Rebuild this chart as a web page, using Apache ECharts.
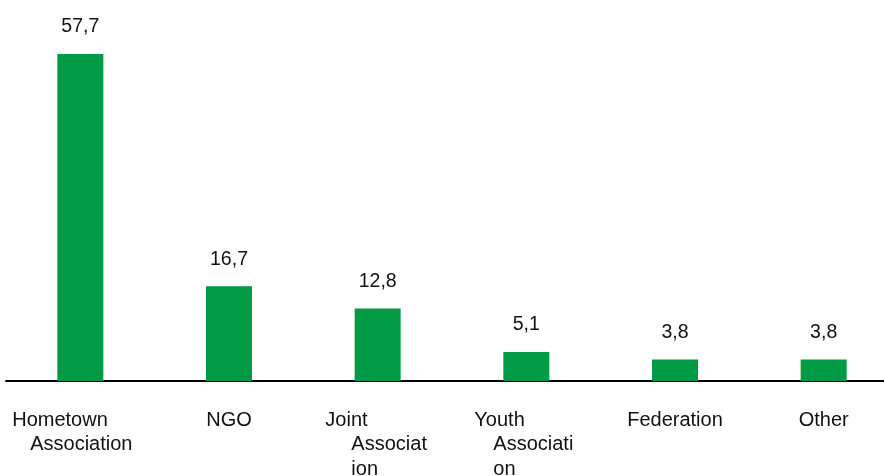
<!DOCTYPE html>
<html>
<head>
<meta charset="utf-8">
<script src="https://cdn.jsdelivr.net/npm/echarts@6/dist/echarts.min.js"></script>
<style>
  html, body { margin: 0; padding: 0; background: #fff; }
  #main { width: 884px; height: 476px; }
</style>
</head>
<body>
<div id="main"></div>
<script>
// data
const categories = ['Hometown Association', 'NGO', 'Joint Association', 'Youth Association', 'Federation', 'Other'];
const tickLabels = [
  ['Hometown', 'Association'],
  ['NGO'],
  ['Joint', 'Associat', 'ion'],
  ['Youth', 'Associati', 'on'],
  ['Federation'],
  ['Other']
];
const values = [57.7, 16.7, 12.8, 5.1, 3.8, 3.8];

// indent style for wrapped lines (per category)
const indentStyle = ['h', null, 'j', 'y', null, null];

const font = 'Liberation Sans, Arial, sans-serif';
const base = { fontFamily: font, fontSize: 20, lineHeight: 24.5, color: '#111', align: 'left' };

const chart = echarts.init(document.getElementById('main'));
chart.setOption({
  animation: false,
  grid: { left: 6, top: 41, width: 892, height: 340, outerBoundsMode: 'none', containLabel: false },
  xAxis: {
    type: 'category',
    data: categories,
    axisTick: { show: false },
    axisLine: { lineStyle: { color: '#000', width: 2 } },
    axisLabel: {
      interval: 0,
      margin: 27,
      align: 'center',
      formatter: function (v, i) {
        const lines = tickLabels[i];
        const st = indentStyle[i] || 'a';
        return lines.map((l, k) => '{' + (k === 0 ? 'a' : st) + '|' + l + '}').join('\n');
      },
      rich: {
        a: base,
        h: Object.assign({}, base, { padding: [0, 16, 0, 18] }),
        j: Object.assign({}, base, { padding: [0, 3, 0, 26] }),
        y: Object.assign({}, base, { padding: [0, 5, 0, 19] })
      }
    }
  },
  yAxis: {
    type: 'value',
    min: 0,
    max: 60,
    show: false,
    splitLine: { show: false }
  },
  series: [{
    type: 'bar',
    data: values,
    barWidth: 46,
    itemStyle: { color: '#009a44' },
    label: {
      show: true,
      position: 'top',
      distance: 17,
      fontFamily: font,
      fontSize: 19.5,
      color: '#111',
      formatter: function (p) { return p.value.toFixed(1).replace('.', ','); }
    }
  }]
});
</script>
</body>
</html>
